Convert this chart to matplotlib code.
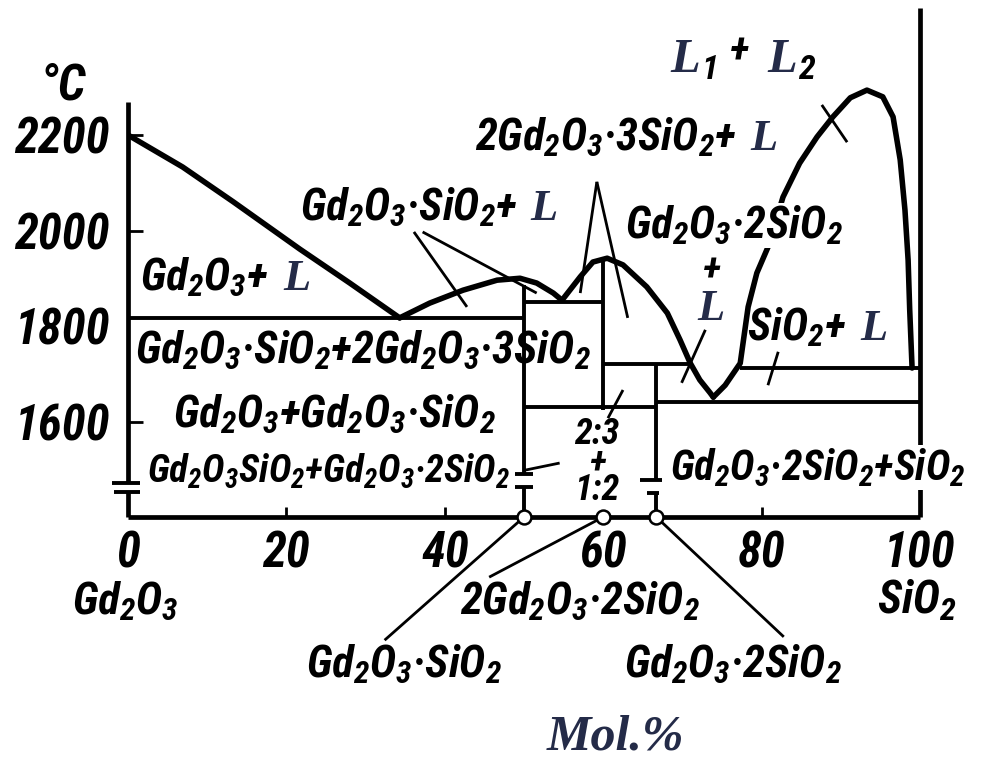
import matplotlib
matplotlib.use("Agg")
import matplotlib.pyplot as plt
from matplotlib import font_manager

W, H = 994, 760

# the original uses a narrow bold italic face; take one if installed
fl = font_manager.fontManager.ttflist
SANS, K, STRETCH = 'DejaVu Sans', 0.72, 'normal'
for name, stretch, k in [('Liberation Sans Narrow', None, 1.0),
                         ('Roboto Condensed', None, 1.0),
                         ('Noto Sans Condensed', None, 0.95),
                         ('DejaVu Sans Condensed', None, 0.8),
                         ('DejaVu Sans', 'condensed', 0.8),
                         ('Noto Sans', 'condensed', 0.92)]:
    if any(f.name == name and f.style != 'normal'
           and (stretch is None or f.stretch == stretch) for f in fl):
        SANS, K, STRETCH = name, k, stretch or 'normal'
        break
SERIF = 'Liberation Serif'
LCOL = '#242b48'

plt.rcParams['font.family'] = [SANS, 'DejaVu Sans']
plt.rcParams['font.weight'] = 'bold'
plt.rcParams['font.style'] = 'italic'
plt.rcParams['font.stretch'] = STRETCH
plt.rcParams['mathtext.fontset'] = 'custom'
plt.rcParams['mathtext.rm'] = f'{SANS}:italic:bold'
plt.rcParams['mathtext.it'] = f'{SANS}:italic:bold'
plt.rcParams['mathtext.bf'] = f'{SANS}:italic:bold'
plt.rcParams['mathtext.default'] = 'rm'

# x = mol% SiO2, t = deg C
gd2o3_liq_x = [0.0, 6.9, 13.3, 21.7, 28.0, 34.3]
gd2o3_liq_t = [2200, 2133, 2060, 1961, 1890, 1817]

c11_liq_x = [34.3, 38.1, 42.3, 46.6, 49.5, 51.6, 53.7, 54.8]
c11_liq_t = [1817, 1848, 1875, 1896, 1900, 1890, 1869, 1854]

c23_liq_x = [54.8, 57.1, 58.7, 60.5, 62.5, 65.5, 68.1, 69.7, 71.0, 72.2, 73.5, 73.9]
c23_liq_t = [1854, 1903, 1934, 1942, 1928, 1882, 1827, 1771, 1722, 1687, 1660, 1651]

sio2_liq_x = [73.9, 75.4, 77.3, 78.3, 79.4, 80.8, 82.7, 84.8, 87.0, 89.0, 91.2,
              93.3, 95.3, 96.6, 97.5, 98.1, 98.5, 98.7, 99.0]
sio2_liq_t = [1651, 1676, 1722, 1840, 1911, 1965, 2070, 2141, 2196, 2238, 2278,
              2294, 2280, 2238, 2148, 2043, 1938, 1834, 1712]

# horizontal invariant lines
iso_t = [1817, 1850, 1720, 1630, 1641, 1712]
iso_x0 = [0, 50, 60, 50, 66.7, 77.3]
iso_x1 = [50, 60, 70.8, 66.7, 100, 100]

# compounds: 1:1, 2:3, 1:2
comp_x = [50, 60, 66.7]
comp_top = [1886, 1942, 1720]
comp_low = [1490, 1624, 1477]

yticks = [1600, 1800, 2000, 2200]
xticks = [0, 20, 40, 60, 80, 100]

fig = plt.figure(figsize=(W / 100, H / 100), dpi=100)
ax = fig.add_axes([128 / W, 1 - 517 / H, 792 / W, 509 / H])
ax.set_xlim(0, 100)
ax.set_ylim(1400, 2466)
for s in ax.spines.values():
    s.set_visible(False)


def ftext(px, py, s, size, **kw):
    kw.setdefault('ha', 'left')
    kw.setdefault('va', 'baseline')
    return fig.text(px / W, 1 - py / H, s, fontsize=size * K, **kw)


def lchar(px, py, s='L', size=32):
    fig.text(px / W, 1 - py / H, s, fontsize=size, family=SERIF,
             weight='bold', style='italic', stretch='normal', color=LCOL,
             va='baseline')


LW_FRAME, LW_LIQ, LW_ISO, LW_PTR = 3.4, 4.0, 2.8, 2.0
line = dict(color='black', solid_capstyle='butt', clip_on=False)

# frame with axis break
ax.plot([0, 0], [1471, 2269], lw=LW_FRAME, **line)
ax.plot([0, 0], [1400, 1452], lw=LW_FRAME, **line)
ax.plot([0, 100], [1400, 1400], lw=LW_FRAME, **line)
ax.plot([100, 100], [1400, 2466], lw=LW_FRAME, **line)
ax.plot([-2.0, 1.5], [1471, 1471], lw=LW_ISO, **line)
ax.plot([-1.8, 1.5], [1452, 1452], lw=LW_ISO, **line)

# liquidus
for xs, ts in [(gd2o3_liq_x, gd2o3_liq_t), (c11_liq_x, c11_liq_t),
               (c23_liq_x, c23_liq_t), (sio2_liq_x, sio2_liq_t)]:
    ax.plot(xs, ts, lw=LW_LIQ, color='black', solid_joinstyle='round',
            solid_capstyle='round')

for t, a, b in zip(iso_t, iso_x0, iso_x1):
    ax.plot([a, b], [t, t], lw=LW_ISO, **line)

for x, top, low in zip(comp_x, comp_top, comp_low):
    ax.plot([x, x], [low, top], lw=LW_ISO, **line)
# lower stubs and break marks of the 1:1 and 1:2 lines
ax.plot([50, 50], [1400, 1462], lw=LW_ISO, **line)
ax.plot([48.9, 51.1], [1490, 1490], lw=LW_ISO, **line)
ax.plot([48.9, 51.1], [1462, 1462], lw=LW_ISO, **line)
ax.plot([66.7, 66.7], [1400, 1450], lw=LW_ISO, **line)
ax.plot([64.6, 67.4], [1477, 1477], lw=LW_ISO, **line)
ax.plot([65.5, 67.0], [1450, 1450], lw=LW_ISO, **line)

ax.plot(comp_x, [1400] * 3, 'o', ms=10, mfc='white', mec='black', mew=1.8,
        clip_on=False, zorder=5)

# leader lines
ptr = [((36.1, 1997), (42.8, 1840)), ((37.2, 1997), (51.6, 1869)),
       ((59.2, 2102), (57.1, 1869)), ((59.2, 2102), (63.1, 1817)),
       ((72.9, 1792), (69.9, 1681)), ((82.1, 1746), (80.8, 1676)),
       ((87.6, 2263), (90.8, 2185)), ((62.5, 1666), (60.6, 1607)),
       ((50.1, 1498), (54.5, 1513)),
       ((50, 1400), (32.4, 1142)), ((60, 1400), (45.6, 1274)),
       ((66.7, 1400), (82.8, 1149))]
for (x0, t0), (x1, t1) in ptr:
    ax.plot([x0, x1], [t0, t1], lw=LW_PTR, **line)

# ticks
ax.set_yticks(yticks, labels=[str(v) for v in yticks], fontsize=35 * K)
ax.set_xticks(xticks, labels=[str(v) for v in xticks], fontsize=35 * K)
ax.tick_params(axis='y', direction='in', length=11, width=2.0, pad=13)
ax.tick_params(axis='x', direction='in', length=7, width=2.0, pad=10)
for t in ax.yaxis.get_major_ticks():
    if t.get_loc() == 1800:
        t.tick1line.set_visible(False)
for t in ax.xaxis.get_major_ticks():
    if t.get_loc() in (0, 60, 100):
        t.tick1line.set_visible(False)

white = dict(facecolor='white', edgecolor='none', pad=0.5)

# region labels
ftext(140, 290, 'Gd$_2$O$_3$+', 32)
lchar(283, 290)
ftext(135, 363, 'Gd$_2$O$_3$·SiO$_2$+2Gd$_2$O$_3$·3SiO$_2$', 32)
ftext(173, 427, 'Gd$_2$O$_3$+Gd$_2$O$_3$·SiO$_2$', 32)
ftext(147, 483, 'Gd$_2$O$_3$SiO$_2$+Gd$_2$O$_3$·2SiO$_2$', 27.5)
ftext(300, 220, 'Gd$_2$O$_3$·SiO$_2$+', 32)
lchar(530, 220)
ftext(475, 150, '2Gd$_2$O$_3$·3SiO$_2$+', 32)
lchar(750, 150)
ftext(625, 238, 'Gd$_2$O$_3$·2SiO$_2$', 32, bbox=white)
ftext(712, 282, '+', 28, ha='center')
lchar(697, 320)
ftext(747, 340, 'SiO$_2$+', 32)
lchar(860, 340)
lchar(670, 72, size=35)
ftext(701, 72, '$_1$', 35)
ftext(730, 64, '+', 30)
lchar(767, 72, size=35)
ftext(798, 72, '$_2$', 35)
ftext(597, 500, '2:3\n+\n1:2', 26, ha='center', multialignment='center',
      linespacing=0.71)
ftext(670, 480, 'Gd$_2$O$_3$·2SiO$_2$+SiO$_2$', 30, bbox=white)

# compound names and axis titles
ftext(460, 614, '2Gd$_2$O$_3$·2SiO$_2$', 32)
ftext(306, 677, 'Gd$_2$O$_3$·SiO$_2$', 32)
ftext(624, 677, 'Gd$_2$O$_3$·2SiO$_2$', 32)
ftext(125, 614, 'Gd$_2$O$_3$', 32, ha='center')
ftext(917, 614, 'SiO$_2$', 33, ha='center')
ftext(63, 100, '°C', 36, ha='center')
fig.text(615 / W, 1 - 750 / H, 'Mol.%', fontsize=36, family=SERIF,
         weight='bold', style='italic', color=LCOL, ha='center', va='baseline')

fig.savefig('out.png', dpi=100)
